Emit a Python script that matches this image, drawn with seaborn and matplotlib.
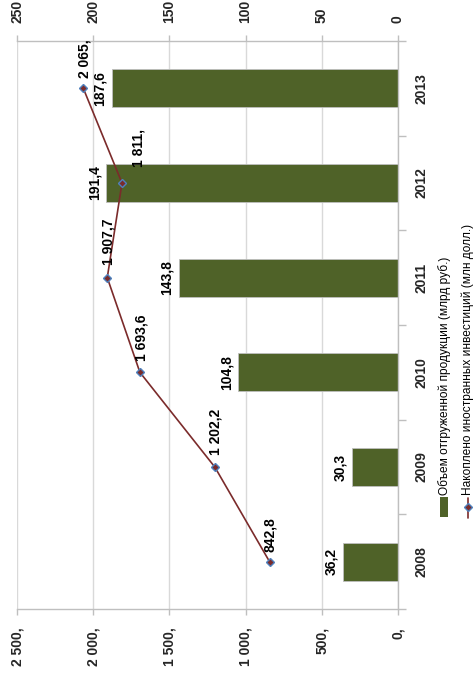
import matplotlib
matplotlib.use('Agg')
import matplotlib.pyplot as plt
import seaborn as sns
import pandas as pd
from matplotlib.patches import Rectangle
from matplotlib.lines import Line2D

# ---- data ----
years = ['2008', '2009', '2010', '2011', '2012', '2013']
shipped = [36.2, 30.3, 104.8, 143.8, 191.4, 187.6]
invest = [842.8, 1202.2, 1693.6, 1907.7, 1811.0, 2065.0]
shipped_labels = ['36,2', '30,3', '104,8', '143,8', '191,4', '187,6']
invest_labels = ['842,8', '1 202,2', '1 693,6', '1 907,7', '1 811,', '2 065,']
bar_ticks = [0, 50, 100, 150, 200, 250]
bar_tick_labels = ['0', '50', '100', '150', '200', '250']
line_ticks = [0, 500, 1000, 1500, 2000, 2500]
line_tick_labels = ['0,', '500,', '1 000,', '1 500,', '2 000,', '2 500,']
legend_labels = ['Объем отгруженной продукции (млрд руб.)',
                 'Накоплено иностранных инвестиций (млн долл.)']

# label offsets (pixels) for the line labels
inv_dx = [0, 1, 2, 1, 16, 1]
inv_dy = [10, 12, 11, 13, 16, 10]

BAR_C = '#4f6228'
LINE_C = '#7b2b2b'
MARK_EC = '#4f81bd'
GRID_C = '#d9d9d9'
AX_C = '#bfbfbf'

sns.set_theme(style='white')
plt.rcParams['font.family'] = ['Liberation Sans', 'DejaVu Sans']

W, H = 475, 677
fig = plt.figure(figsize=(W / 100, H / 100), dpi=100)
ax = fig.add_axes([17 / W, (H - 609) / H, 381 / W, 568 / H])

order = years[::-1]
df = pd.DataFrame({'year': years, 'shipped': shipped, 'invest': invest})
df['pos'] = [order.index(y) for y in years]

sns.barplot(data=df, x='shipped', y='year', order=order, orient='h',
            color=BAR_C, saturation=1, width=0.4, edgecolor=AX_C,
            linewidth=0.6, ax=ax, zorder=2)
ax.set_xlim(250, 0)
ax.set_ylim(5.5, -0.5)
ax.set_xlabel('')
ax.set_ylabel('')

ax2 = ax.twiny()
sns.lineplot(data=df, x='invest', y='pos', orient='y', sort=False, ax=ax2,
             color=LINE_C, lw=1.2, marker='D', markersize=4.5,
             markerfacecolor=LINE_C, markeredgecolor=MARK_EC,
             markeredgewidth=1.0)
ax2.set_xlim(2500, 0)
ax.set_ylim(5.5, -0.5)
ax2.set_xlabel('')
ax2.set_ylabel('')

# grid
ax.set_axisbelow(True)
ax.xaxis.grid(True, color=GRID_C, lw=1)
ax.yaxis.grid(False)

# top axis (bars)
ax.xaxis.set_ticks_position('top')
ax.set_xticks(bar_ticks)
ax.set_xticklabels(bar_tick_labels, rotation=90, fontsize=10, fontweight='bold')
ax.tick_params(axis='x', which='major', direction='out', length=4, width=1,
               color=AX_C, pad=9, labeltop=True, labelbottom=False, top=True, bottom=False)

# bottom axis (line)
ax2.xaxis.set_ticks_position('bottom')
ax2.set_xticks(line_ticks)
ax2.set_xticklabels(line_tick_labels, rotation=90, fontsize=10, fontweight='bold')
ax2.tick_params(axis='x', which='major', direction='out', length=4, width=1,
                color=AX_C, pad=9, labelbottom=True, labeltop=False, bottom=True, top=False)

# category axis on the right
ax.yaxis.tick_right()
ax.set_yticks(range(len(order)))
ax.set_yticklabels(order, rotation=90, fontsize=10, fontweight='bold', va='center')
ax.set_yticks([i - 0.5 for i in range(len(order) + 1)], minor=True)
ax.tick_params(axis='y', which='major', length=0, pad=12)
ax.tick_params(axis='y', which='minor', length=6, width=1, color=AX_C, direction='out', right=True, left=False)

ax.spines['left'].set_visible(False)
for s in ['top', 'bottom', 'right']:
    ax.spines[s].set_color(AX_C)
    ax.spines[s].set_linewidth(1)
for s in ax2.spines.values():
    s.set_visible(False)

# data labels
for val, lbl, y in zip(shipped, shipped_labels, years):
    ax.annotate(lbl, xy=(val, order.index(y)), xytext=(-5, 0),
                textcoords='offset pixels', rotation=90, ha='right', va='center',
                fontsize=10, fontweight='bold', color='black')
for val, lbl, y, dx, dy in zip(invest, invest_labels, years, inv_dx, inv_dy):
    ax2.annotate(lbl, xy=(val, order.index(y)), xytext=(dx, dy),
                 textcoords='offset pixels', rotation=90, ha='center', va='bottom',
                 fontsize=10, fontweight='bold', color='black')

# legend (rotated, drawn manually in figure pixel coordinates)
def fx(x):
    return x / W

def fy(y):
    return 1 - y / H

fig.add_artist(Rectangle((fx(440), fy(517)), 8 / W, 20 / H, transform=fig.transFigure,
                         facecolor=BAR_C, edgecolor='none'))
fig.text(fx(445), fy(495), legend_labels[0], rotation=90, ha='center', va='bottom',
         fontsize=8.6, color='black', transform=fig.transFigure)
fig.add_artist(Line2D([fx(468), fx(468)], [fy(518), fy(498)], transform=fig.transFigure,
                      color=LINE_C, lw=1.2))
fig.add_artist(Line2D([fx(468)], [fy(507)], transform=fig.transFigure, marker='D',
                      markersize=4.5, markerfacecolor=LINE_C, markeredgecolor=MARK_EC,
                      markeredgewidth=1.0, color=LINE_C))
fig.text(fx(468), fy(495), legend_labels[1], rotation=90, ha='center', va='bottom',
         fontsize=8.6, color='black', transform=fig.transFigure)

fig.savefig('out.png', dpi=100, facecolor='white')
